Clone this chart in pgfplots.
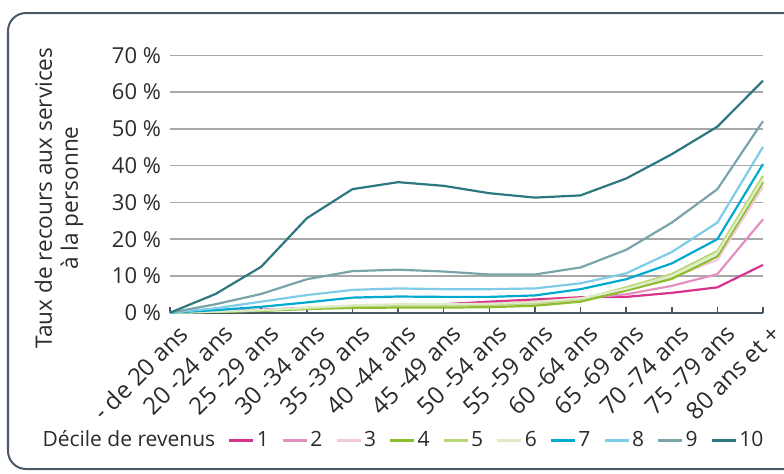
\documentclass[border=0pt]{standalone}
\usepackage{fontspec}
\setmainfont{Open Sans}
\usepackage{pgfplots}
\usepackage{pgfplotstable}
\pgfplotsset{compat=1.18}

\definecolor{dA}{HTML}{D9338C}
\definecolor{dB}{HTML}{E48FC0}
\definecolor{dC}{HTML}{F4C9DF}
\definecolor{dD}{HTML}{8CBD2B}
\definecolor{dE}{HTML}{B8D77B}
\definecolor{dF}{HTML}{DDEBC6}
\definecolor{dG}{HTML}{00A9D0}
\definecolor{dH}{HTML}{7FCCE8}
\definecolor{dI}{HTML}{79A4AA}
\definecolor{dJ}{HTML}{2D7880}
\definecolor{framec}{HTML}{4B5866}
\definecolor{axisc}{HTML}{4A5562}
\definecolor{gridc}{HTML}{A8A8A8}
\definecolor{txt}{HTML}{2B2B2B}

% taux de recours (%) par tranche d'age (0..13) et decile de revenus
\pgfplotstableread{
x  d1   d2   d3   d4   d5   d6   d7   d8   d9   d10
0  0    0    0    0    0    0    0    0    0    0
1  0.5  0.4  0.3  0.2  0.3  0.3  0.7  1.2  2.3  5.1
2  0.8  0.7  0.6  0.5  0.6  0.7  1.6  3.0  5.1  12.5
3  1.3  1.2  1.1  1.0  1.2  1.4  2.8  4.8  9.1  25.7
4  1.8  1.7  1.6  1.3  1.8  2.0  4.1  6.2  11.3 33.6
5  2.0  2.0  1.8  1.4  2.0  2.3  4.4  6.6  11.7 35.5
6  2.3  2.2  1.9  1.4  2.0  2.3  4.3  6.4  11.2 34.5
7  3.0  2.5  2.0  1.5  2.1  2.4  4.3  6.4  10.4 32.5
8  3.6  3.0  2.4  1.9  2.6  2.9  4.7  6.6  10.4 31.3
9  4.2  3.9  3.4  3.0  3.6  3.9  6.4  8.0  12.3 31.9
10 4.3  5.0  6.2  6.0  6.9  6.5  9.1  10.7 17.1 36.5
11 5.4  7.3  9.5  9.2  10.5 10.0 13.4 16.5 24.5 43.1
12 6.9  10.5 14.4 15.3 16.8 16.2 20.0 24.5 33.6 50.6
13 13.0 25.4 34.3 35.5 37.2 36.3 40.4 45.1 52.1 63.1
}\data

\begin{document}
\begin{tikzpicture}[font=\fontsize{10.5pt}{12.5pt}\selectfont, text=txt]
\useasboundingbox (0,0) rectangle (392pt,236.5pt);
\begin{scope}
\clip (0,0) rectangle (392pt,236.5pt);
\draw[framec, line width=1pt, rounded corners=9pt] (4pt,2pt) rectangle (430pt,230pt);
\end{scope}

\node[rotate=90, align=center, font=\fontsize{11.3pt}{13pt}\selectfont] at (29.5pt,137.5pt)
  {Taux de recours aux services\\à la personne};

\begin{axis}[
    at={(85pt,80.15pt)}, anchor=south west,
    scale only axis,
    width=296.5pt, height=128.7pt,
    xmin=0, xmax=13, ymin=0, ymax=70,
    separate axis lines,
    axis x line*=bottom, axis y line*=left,
    x axis line style={axisc, line width=1pt, -},
    y axis line style={draw=none},
    xtick={0,...,13},
    xticklabels={- de 20 ans, 20 -24 ans, 25 -29 ans, 30 -34 ans, 35 -39 ans,
      40 -44 ans, 45 -49 ans, 50 -54 ans, 55 -59 ans, 60 -64 ans,
      65 -69 ans, 70 -74 ans, 75 -79 ans, 80 ans et +},
    xticklabel style={xshift=3.5pt, yshift=-3.5pt, rotate=45, anchor=north east,
      inner sep=1pt, font=\fontsize{12pt}{14pt}\selectfont},
    xtick style={axisc, line width=0.8pt},
    tick align=inside,
    major tick length=3pt,
    ytick={0,10,...,70},
    yticklabels={0 \%,10 \%,20 \%,30 \%,40 \%,50 \%,60 \%,70 \%},
    ytick style={draw=none},
    yticklabel style={anchor=east, xshift=-1pt, font=\fontsize{11pt}{13pt}\selectfont},
    ymajorgrids,
    grid style={gridc, line width=0.75pt},
    tick label style={text=txt},
    every axis plot/.append style={line width=1.1pt},
    clip=false,
    legend columns=11,
    legend style={at={(-0.219,-0.4946)}, anchor=west, draw=none, fill=none,
      inner sep=0pt, nodes={inner sep=1pt, text=txt},
      /tikz/every even column/.append style={column sep=5.3pt}},
    legend image code/.code={\draw[#1, line width=1.5pt] (0pt,0pt) -- (12pt,0pt);},
]
\addlegendimage{empty legend}
\addlegendentry{Décile de revenus\hspace{13pt}}
\addplot[dA] table[x=x, y=d1] {\data}; \addlegendentry{1}
\addplot[dB] table[x=x, y=d2] {\data}; \addlegendentry{2}
\addplot[dC] table[x=x, y=d3] {\data}; \addlegendentry{3}
\addplot[dD] table[x=x, y=d4] {\data}; \addlegendentry{4}
\addplot[dE] table[x=x, y=d5] {\data}; \addlegendentry{5}
\addplot[dF] table[x=x, y=d6] {\data}; \addlegendentry{6}
\addplot[dG] table[x=x, y=d7] {\data}; \addlegendentry{7}
\addplot[dH] table[x=x, y=d8] {\data}; \addlegendentry{8}
\addplot[dI] table[x=x, y=d9] {\data}; \addlegendentry{9}
\addplot[dJ] table[x=x, y=d10] {\data}; \addlegendentry{10}
\end{axis}
\end{tikzpicture}
\end{document}
